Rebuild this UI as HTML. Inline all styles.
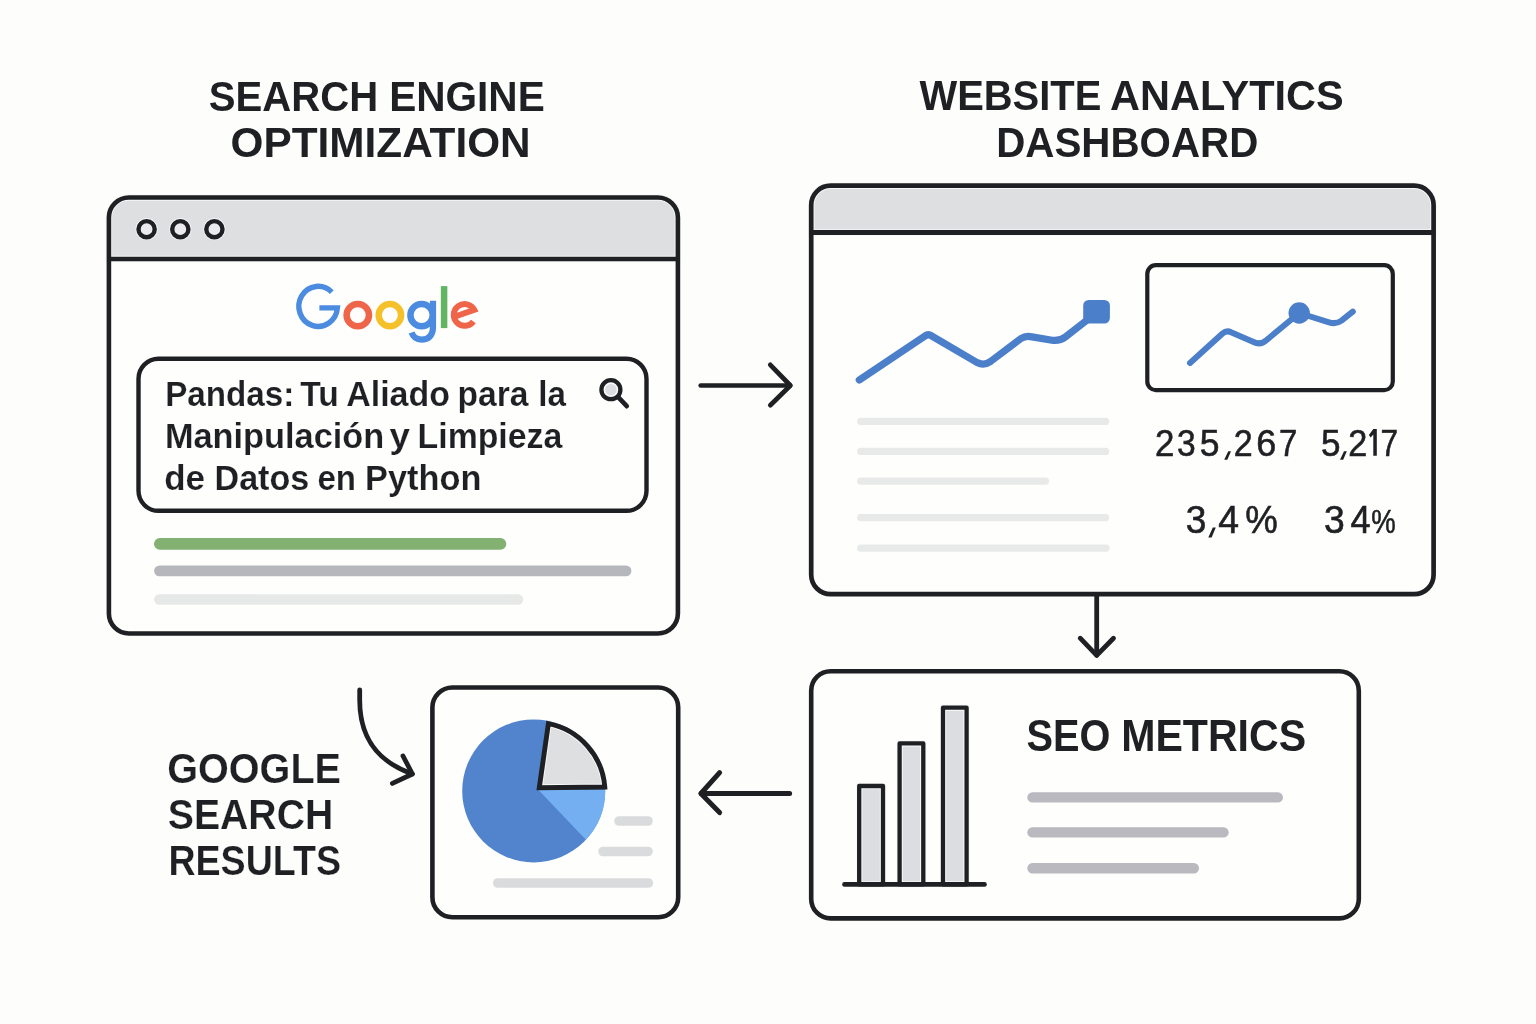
<!DOCTYPE html>
<html>
<head>
<meta charset="utf-8">
<title>SEO Diagram</title>
<style>
html,body{margin:0;padding:0;background:#fdfdfb;}
body{width:1536px;height:1024px;overflow:hidden;font-family:"Liberation Sans",sans-serif;}
svg{display:block;will-change:transform;}
text{font-family:"Liberation Sans",sans-serif;fill:#1f2023;}
.h{font-weight:700;}
.n{stroke:#1f2023;stroke-width:0.6px;}
.s{stroke:#fefefd;stroke-width:0.15px;}
.m{}
.l{stroke:#fdfdfb;stroke-width:0.2px;}
</style>
</head>
<body>
<svg width="1536" height="1024" viewBox="0 0 1536 1024">
<rect x="0" y="0" width="1536" height="1024" fill="#fdfdfb"/>

<!-- ===== Headings ===== -->

<!-- ===== Left browser window ===== -->
<g id="leftwin">
<rect x="108.9" y="197.5" width="569" height="436" rx="20" ry="20" fill="#fefefd"/>
<path d="M108.9 259 V217.5 a20 20 0 0 1 20 -20 H657.9 a20 20 0 0 1 20 20 V259 Z" fill="#dedfe1" stroke="#f7f7f7" stroke-width="6.4"/>
<rect x="108.9" y="197.5" width="569" height="436" rx="20" ry="20" fill="none" stroke="#1f2023" stroke-width="4.6"/>
<line x1="108.9" y1="259" x2="677.9" y2="259" stroke="#1f2023" stroke-width="4.4"/>
<circle cx="146.6" cy="229.2" r="11.1" fill="#f3f3f4"/><circle cx="146.6" cy="229.2" r="8.1" fill="#ebebed" stroke="#1f2023" stroke-width="4.4"/>
<circle cx="180.3" cy="229.2" r="11.1" fill="#f3f3f4"/><circle cx="180.3" cy="229.2" r="8.1" fill="#ebebed" stroke="#1f2023" stroke-width="4.4"/>
<circle cx="214.4" cy="229.2" r="11.1" fill="#f3f3f4"/><circle cx="214.4" cy="229.2" r="8.1" fill="#ebebed" stroke="#1f2023" stroke-width="4.4"/>
</g>

<!-- Google logo -->
<g id="glogo" fill="none" stroke-linecap="butt">
<path d="M331.8 292.2 A19.3 20 0 1 0 337.4 307.9 H319.4" stroke="#4b8ce0" stroke-width="5.4"/>
<circle cx="357.8" cy="315.1" r="11.2" stroke="#ee6549" stroke-width="6.5"/>
<circle cx="389.9" cy="315.1" r="11.2" stroke="#f5c12b" stroke-width="6.5"/>
<circle cx="421.6" cy="315.1" r="11.2" stroke="#4b8ce0" stroke-width="6.5"/>
<path d="M433 300.8 V327 C433 336 428 339.6 421.5 339.6 C416.5 339.6 413.2 337.2 411.6 332.6" stroke="#4b8ce0" stroke-width="6.2"/>
<line x1="444.1" y1="286.1" x2="444.1" y2="328.1" stroke="#62b562" stroke-width="6.5"/>
<path d="M455.9 316.3 L474.3 309.8 A10.9 10.9 0 1 0 473.4 321.4" stroke="#ee6549" stroke-width="5.9"/>
</g>

<!-- Search box -->
<rect x="138.5" y="358.8" width="508" height="152" rx="20" ry="20" fill="#fefefd" stroke="#1f2023" stroke-width="4.4"/>
<!-- magnifier -->
<circle cx="610.9" cy="389.7" r="9.5" fill="#fafafa" stroke="#1f2023" stroke-width="4.3"/>
<circle cx="610.9" cy="389.7" r="5.8" fill="#dcdde0"/>
<line x1="618.2" y1="397.1" x2="626.8" y2="406.2" stroke="#1f2023" stroke-width="4.6" stroke-linecap="round"/>

<!-- result bars -->
<line x1="159.8" y1="543.9" x2="500.5" y2="543.9" stroke="#82b172" stroke-width="11.6" stroke-linecap="round"/>
<line x1="159.5" y1="570.9" x2="626" y2="570.9" stroke="#b6b7bd" stroke-width="10.8" stroke-linecap="round"/>
<line x1="159.3" y1="599.5" x2="518" y2="599.5" stroke="#e7e8e8" stroke-width="10.4" stroke-linecap="round"/>

<!-- ===== Arrow 1 (right) ===== -->
<g stroke="#1f2023" stroke-width="4.7" stroke-linecap="round" stroke-linejoin="round" fill="none">
<line x1="700.7" y1="385.5" x2="790" y2="385.5"/>
<polyline points="770.3,364.8 790.4,385.5 770.3,405.2"/>
</g>

<!-- ===== Right window ===== -->
<g id="rightwin">
<rect x="811.2" y="185.7" width="622.4" height="408.5" rx="19.5" ry="19.5" fill="#fefefd"/>
<path d="M811.2 232.5 V205.2 a19.5 19.5 0 0 1 19.5 -19.5 H1414.1 a19.5 19.5 0 0 1 19.5 19.5 V232.5 Z" fill="#dedfe1" stroke="#f7f7f7" stroke-width="6.6"/>
<rect x="811.2" y="185.7" width="622.4" height="408.5" rx="19.5" ry="19.5" fill="none" stroke="#1f2023" stroke-width="4.7"/>
<line x1="811.2" y1="232.5" x2="1433.6" y2="232.5" stroke="#1f2023" stroke-width="4.8"/>
</g>
<!-- big line chart -->
<path d="M859.3 380 L925 336 Q928.2 333.6 931.5 335.8 L977 362.5 Q984 366 990.5 361.5 L1021 338.5 Q1025.5 335.6 1030.5 336.6 L1052 340.2 Q1059.5 341.4 1065.5 336.8 L1091 317" fill="none" stroke="#4c7fca" stroke-width="7.2" stroke-linecap="round" stroke-linejoin="round"/>
<rect x="1083.2" y="299.9" width="26.7" height="23.7" rx="5.5" ry="5.5" fill="#4c7fca"/>
<!-- gray lines -->
<g stroke="#e8e9e9" stroke-width="7.2" stroke-linecap="round">
<line x1="860.7" y1="421.4" x2="1105.6" y2="421.4"/>
<line x1="860.7" y1="451.4" x2="1105.6" y2="451.4"/>
<line x1="860.7" y1="481.2" x2="1045.5" y2="481.2"/>
<line x1="860.7" y1="517.6" x2="1105.6" y2="517.6"/>
<line x1="860.7" y1="548.2" x2="1105.8" y2="548.2"/>
</g>
<!-- inner box -->
<rect x="1147.3" y="265.2" width="245.5" height="124.9" rx="8.5" ry="8.5" fill="#fefefd" stroke="#1f2023" stroke-width="4.2"/>
<path d="M1190 363 L1222.5 333.5 Q1226.6 330 1231 332.2 L1253 341.8 Q1260.5 345.5 1266 340.5 L1299.2 313 L1329 322.3 Q1336 324.6 1341.5 320.6 L1352.8 311.6" fill="none" stroke="#4c7fca" stroke-width="6" stroke-linecap="round" stroke-linejoin="round"/>
<circle cx="1299.2" cy="313" r="10.7" fill="#4c7fca"/>
<!-- numbers -->

<!-- ===== Arrow 2 (down) ===== -->
<g stroke="#1f2023" stroke-width="4.8" stroke-linecap="round" stroke-linejoin="round" fill="none">
<line x1="1096.7" y1="596" x2="1096.7" y2="655"/>
<polyline points="1080.2,638.2 1096.7,655.4 1113.5,638.2"/>
</g>

<!-- ===== SEO metrics box ===== -->
<rect x="811.2" y="671.2" width="547.6" height="247.2" rx="19.5" ry="19.5" fill="#fefefd" stroke="#1f2023" stroke-width="4.6"/>
<g fill="#dcdde0" stroke="#f8f8f8" stroke-width="6.4">
<rect x="859.2" y="786" width="23.8" height="98.4"/>
<rect x="899.6" y="743.4" width="23.7" height="141"/>
<rect x="943" y="707.7" width="23.6" height="176.7"/>
</g>
<g fill="none" stroke="#1f2023" stroke-width="4.3" stroke-linejoin="round">
<rect x="859.2" y="786" width="23.8" height="98.4"/>
<rect x="899.6" y="743.4" width="23.7" height="141"/>
<rect x="943" y="707.7" width="23.6" height="176.7"/>
</g>
<line x1="844.5" y1="884.4" x2="984.5" y2="884.4" stroke="#1f2023" stroke-width="4.7" stroke-linecap="round"/>
<g stroke="#b9b9bf" stroke-width="10.4" stroke-linecap="round">
<line x1="1032.5" y1="797.4" x2="1277.8" y2="797.4"/>
<line x1="1032.5" y1="832.4" x2="1223.5" y2="832.4"/>
<line x1="1032.5" y1="868.2" x2="1193.8" y2="868.2"/>
</g>

<!-- ===== Arrow 3 (left) ===== -->
<g stroke="#1f2023" stroke-width="5" stroke-linecap="round" stroke-linejoin="round" fill="none">
<line x1="701.2" y1="793.5" x2="789.6" y2="793.5"/>
<polyline points="719.6,772.6 700.9,793.5 719.6,812.6"/>
</g>

<!-- ===== Pie box ===== -->
<rect x="432.4" y="687.5" width="245.8" height="229.8" rx="20" ry="20" fill="#fefefd" stroke="#1f2023" stroke-width="4.6"/>
<circle cx="533.7" cy="790.9" r="71.5" fill="#5184cd"/>
<path d="M538 789.6 L605.2 789.6 A71.5 71.5 0 0 1 585.9 839.8 Z" fill="#73aff1"/>
<clipPath id="slc"><path d="M539.3 787.7 L548.4 723.6 A70 70 0 0 1 604.8 787 Z"/></clipPath>
<path d="M539.3 787.7 L548.4 723.6 A70 70 0 0 1 604.8 787 Z" fill="#dedfe1" stroke="#f8f8f8" stroke-width="6.8" stroke-linejoin="miter" clip-path="url(#slc)"/>
<path d="M539.3 787.7 L548.4 723.6 A70 70 0 0 1 604.8 787 Z" fill="none" stroke="#1f2023" stroke-width="4.9" stroke-linejoin="miter"/>
<g stroke="#dadbdc" stroke-width="9.6" stroke-linecap="round">
<line x1="619" y1="821" x2="648" y2="821"/>
<line x1="603" y1="851.5" x2="648" y2="851.5"/>
<line x1="497.8" y1="883" x2="648.4" y2="883"/>
</g>

<!-- ===== Curved arrow ===== -->
<g stroke="#1f2023" stroke-width="4.8" stroke-linecap="round" stroke-linejoin="round" fill="none">
<path d="M359.7 690 L359.7 700 C359.7 747.7 388 765.3 412.2 773.9"/>
<polyline points="403,756 412.4,774 392.4,783.4"/>
</g>

<!-- Texts -->
<g id="texts">
<text class="h" x="208.84" y="110.6" font-size="41.6" textLength="169.31" lengthAdjust="spacingAndGlyphs">SEARCH</text>
<text class="h" x="389.17" y="110.6" font-size="41.6" textLength="155.57" lengthAdjust="spacingAndGlyphs">ENGINE</text>
<text class="h" x="230.57" y="157.1" font-size="41.6" textLength="300.07" lengthAdjust="spacingAndGlyphs">OPTIMIZATION</text>
<text class="h" x="919.5" y="109.8" font-size="41.6" textLength="181.84" lengthAdjust="spacingAndGlyphs">WEBSITE</text>
<text class="h" x="1110.1" y="109.8" font-size="41.6" textLength="233.7" lengthAdjust="spacingAndGlyphs">ANALYTICS</text>
<text class="h" x="996.19" y="156.7" font-size="41.6" textLength="262.13" lengthAdjust="spacingAndGlyphs">DASHBOARD</text>
<text class="h s" x="165.14" y="405.7" font-size="35.8" textLength="129.18" lengthAdjust="spacingAndGlyphs">Pandas:</text>
<text class="h s" x="300.2" y="405.7" font-size="35.8" textLength="38.55" lengthAdjust="spacingAndGlyphs">Tu</text>
<text class="h s" x="346.15" y="405.7" font-size="35.8" textLength="103.87" lengthAdjust="spacingAndGlyphs">Aliado</text>
<text class="h s" x="457.62" y="405.7" font-size="35.8" textLength="70.92" lengthAdjust="spacingAndGlyphs">para</text>
<text class="h s" x="538.22" y="405.7" font-size="35.8" textLength="27.65" lengthAdjust="spacingAndGlyphs">la</text>
<text class="h s" x="164.88" y="447.6" font-size="35.8" textLength="219.43" lengthAdjust="spacingAndGlyphs">Manipulación</text>
<text class="h s" x="389.47" y="447.6" font-size="35.8" textLength="20.45" lengthAdjust="spacingAndGlyphs">y</text>
<text class="h s" x="417.61" y="447.6" font-size="35.8" textLength="144.65" lengthAdjust="spacingAndGlyphs">Limpieza</text>
<text class="h s" x="164.25" y="489.5" font-size="35.8" textLength="40.82" lengthAdjust="spacingAndGlyphs">de</text>
<text class="h s" x="214.49" y="489.5" font-size="35.8" textLength="94.81" lengthAdjust="spacingAndGlyphs">Datos</text>
<text class="h s" x="317.38" y="489.5" font-size="35.8" textLength="38.57" lengthAdjust="spacingAndGlyphs">en</text>
<text class="h s" x="365.08" y="489.5" font-size="35.8" textLength="116.34" lengthAdjust="spacingAndGlyphs">Python</text>
<text class="h m" x="1026.5" y="751.1" font-size="43.5" textLength="83.92" lengthAdjust="spacingAndGlyphs">SEO</text>
<text class="h m" x="1121.2" y="751.1" font-size="43.5" textLength="184.92" lengthAdjust="spacingAndGlyphs">METRICS</text>
<text class="h l" x="167.2" y="782.9" font-size="41.6" textLength="173.79" lengthAdjust="spacingAndGlyphs">GOOGLE</text>
<text class="h l" x="167.86" y="828.8" font-size="41.6" textLength="165.33" lengthAdjust="spacingAndGlyphs">SEARCH</text>
<text class="h l" x="168.39" y="874.6" font-size="41.6" textLength="172.65" lengthAdjust="spacingAndGlyphs">RESULTS</text>
<text class="n" x="1154.91" y="455.6" font-size="36.8" textLength="19.39" lengthAdjust="spacingAndGlyphs">2</text>
<text class="n" x="1176.98" y="455.6" font-size="36.8" textLength="18.66" lengthAdjust="spacingAndGlyphs">3</text>
<text class="n" x="1199.67" y="455.6" font-size="36.8" textLength="19.75" lengthAdjust="spacingAndGlyphs">5</text>
<text class="n" x="1233.65" y="455.6" font-size="36.8" textLength="18.9" lengthAdjust="spacingAndGlyphs">2</text>
<text class="n" x="1256.35" y="455.6" font-size="36.8" textLength="19.99" lengthAdjust="spacingAndGlyphs">6</text>
<text class="n" x="1278.91" y="455.6" font-size="36.8" textLength="18.3" lengthAdjust="spacingAndGlyphs">7</text>
<text class="n" x="1321.09" y="455.6" font-size="36.8" textLength="19.51" lengthAdjust="spacingAndGlyphs">5</text>
<text class="n" x="1348.14" y="455.6" font-size="36.8" textLength="19.02" lengthAdjust="spacingAndGlyphs">2</text>
<text class="n" x="1380.48" y="455.6" font-size="36.8" textLength="17.58" lengthAdjust="spacingAndGlyphs">7</text>
<text class="n" x="1185.72" y="532.7" font-size="39.5" textLength="20.63" lengthAdjust="spacingAndGlyphs">3</text>
<text class="n" x="1218.16" y="532.7" font-size="39.5" textLength="20.76" lengthAdjust="spacingAndGlyphs">4</text>
<text class="n" x="1245.16" y="532.7" font-size="39" textLength="32.52" lengthAdjust="spacingAndGlyphs">%</text>
<text class="n" x="1324.11" y="532.7" font-size="39.5" textLength="20.75" lengthAdjust="spacingAndGlyphs">3</text>
<text class="n" x="1350.48" y="532.7" font-size="39.5" textLength="20.1" lengthAdjust="spacingAndGlyphs">4</text>
<text class="n" x="1371.28" y="532.7" font-size="33.5" textLength="24.48" lengthAdjust="spacingAndGlyphs">%</text>
<g fill="#1f2023">
<polygon points="1228.3,451.2 1231,451.2 1227.3,459.8 1224.2,459.8"/>
<polygon points="1344,451.2 1346.8,451.2 1343.2,459.8 1340,459.8"/>
<polygon points="1212.8,527.6 1215.8,527.6 1211.6,537.4 1208.3,537.4"/>
<path d="M1373.3 429.1 H1376.8 V455.8 H1373.3 V434.4 L1370.6 437.6 L1368.9 435.1 Z"/>
</g>
</g>
</svg>
</body>
</html>
